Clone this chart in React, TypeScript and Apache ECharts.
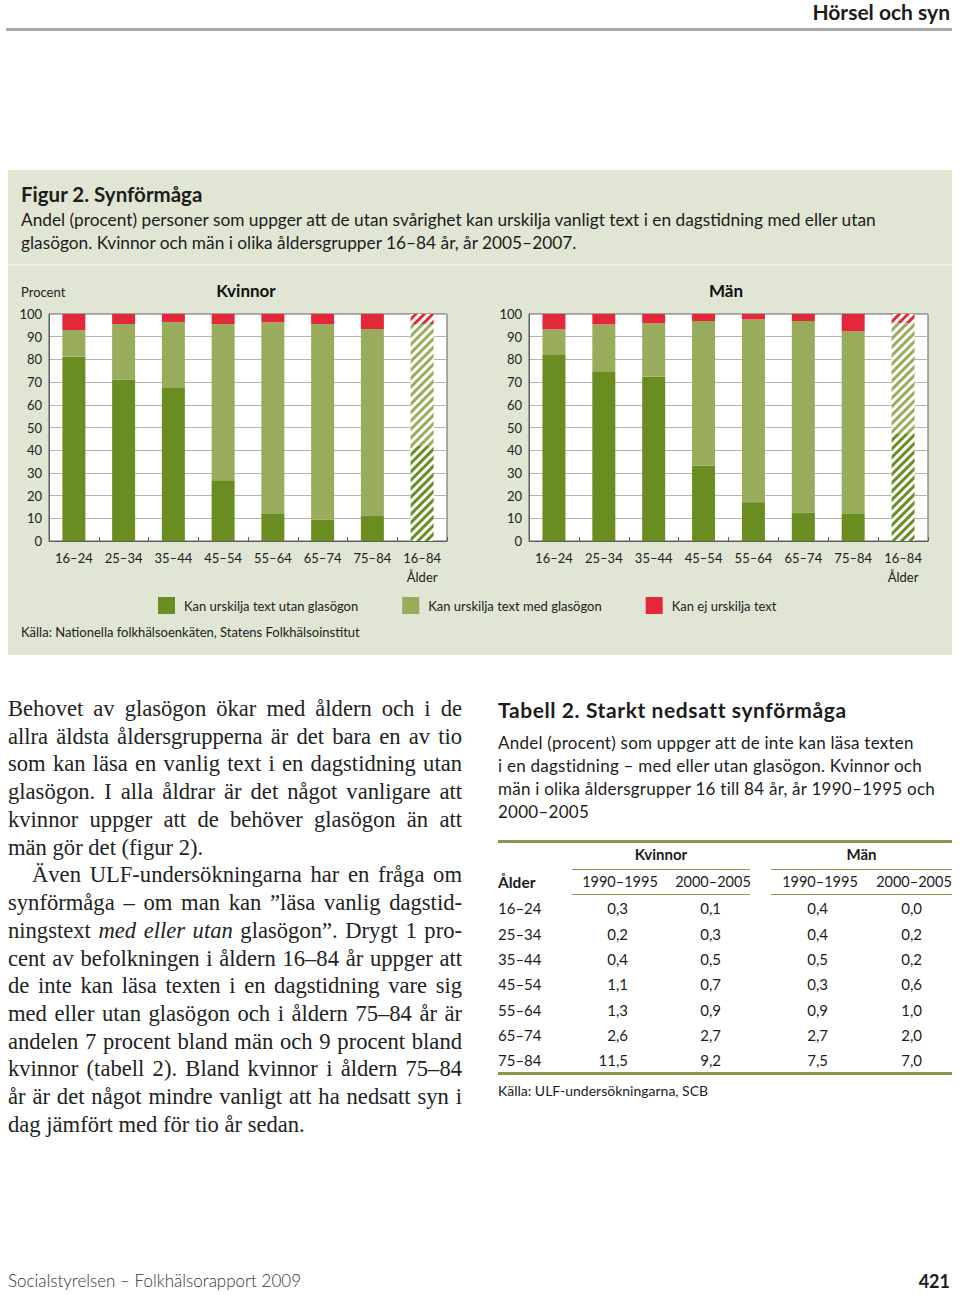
import React, { useEffect, useRef } from "react";
import * as echarts from "echarts";

// ---------- DATA ----------
const categories = ["16–24", "25–34", "35–44", "45–54", "55–64", "65–74", "75–84", "16–84"];
const axisNameX = "Ålder";
const yTicks = { min: 0, max: 100, interval: 10 };
const seriesNames = [
  "Kan urskilja text utan glasögon",
  "Kan urskilja text med glasögon",
  "Kan ej urskilja text",
];
const womenNoGlasses = [81.2, 71.0, 67.4, 26.8, 12.2, 9.4, 11.3, 41.9];
const womenWithGlasses = [11.7, 24.6, 29.1, 68.8, 84.1, 86.2, 82.1, 53.7];
const womenCannot = [7.1, 4.4, 3.5, 4.4, 3.7, 4.4, 6.6, 4.4];
const menNoGlasses = [81.9, 74.4, 72.4, 33.2, 17.1, 12.6, 12.2, 47.1];
const menWithGlasses = [11.3, 21.0, 23.5, 63.7, 80.5, 84.3, 80.2, 48.8];
const menCannot = [6.8, 4.6, 4.1, 3.1, 2.4, 3.1, 7.6, 4.1];

const tableAges = ["16–24", "25–34", "35–44", "45–54", "55–64", "65–74", "75–84"];
const tableWomen1990 = ["0,3", "0,2", "0,4", "1,1", "1,3", "2,6", "11,5"];
const tableWomen2000 = ["0,1", "0,3", "0,5", "0,7", "0,9", "2,7", "9,2"];
const tableMen1990 = ["0,4", "0,4", "0,5", "0,3", "0,9", "2,7", "7,5"];
const tableMen2000 = ["0,0", "0,2", "0,2", "0,6", "1,0", "2,0", "7,0"];

const bodyLines: { t: React.ReactNode; last?: boolean; indent?: boolean }[] = [
  { t: "Behovet av glasögon ökar med åldern och i de" },
  { t: "allra äldsta åldersgrupperna är det bara en av tio" },
  { t: "som kan läsa en vanlig text i en dagstidning utan" },
  { t: "glasögon. I alla åldrar är det något vanligare att" },
  { t: "kvinnor uppger att de behöver glasögon än att" },
  { t: "män gör det (figur 2).", last: true },
  { t: "Även ULF-undersökningarna har en fråga om", indent: true },
  { t: "synförmåga – om man kan ”läsa vanlig dagstid-" },
  { t: <>ningstext <i>med eller utan</i> glasögon”. Drygt 1 pro-</> },
  { t: "cent av befolkningen i åldern 16–84 år uppger att" },
  { t: "de inte kan läsa texten i en dagstidning vare sig" },
  { t: "med eller utan glasögon och i åldern 75–84 år är" },
  { t: "andelen 7 procent bland män och 9 procent bland" },
  { t: "kvinnor (tabell 2). Bland kvinnor i åldern 75–84" },
  { t: "år är det något mindre vanligt att ha nedsatt syn i" },
  { t: "dag jämfört med för tio år sedan.", last: true },
];

// ---------- STYLE ----------
const DARK = "#6a8d22";
const LIGHT = "#98ac5c";
const RED = "#e32939";
const PANEL = "#e1e5d3";
const FONT = "Lato, 'Open Sans', sans-serif";

function buildData(values: number[], color: string) {
  return values.map((v, i) =>
    i === categories.length - 1
      ? {
          value: v,
          itemStyle: {
            color: "#ffffff",
            decal: {
              symbol: "rect",
              symbolSize: 1,
              color: color,
              backgroundColor: "#ffffff",
              dashArrayX: [1, 0],
              dashArrayY: [3, 3],
              rotation: -Math.PI / 4,
            },
          },
        }
      : v
  );
}

function makeSeries(idx: number, stack: string, arrays: number[][]) {
  const colors = [DARK, LIGHT, RED];
  return arrays.map((arr, k) => ({
    name: seriesNames[k],
    type: "bar",
    stack,
    xAxisIndex: idx,
    yAxisIndex: idx,
    barWidth: 23,
    itemStyle: { color: colors[k] },
    data: buildData(arr, colors[k]),
  }));
}

function axisPair(gridIndex: number) {
  return {
    x: {
      type: "category",
      gridIndex,
      data: categories,
      axisLine: { lineStyle: { color: "#5e5e5e", width: 1 } },
      axisTick: { show: true, inside: true, length: 4, lineStyle: { color: "#5e5e5e" } },
      axisLabel: {
        color: "#222",
        fontFamily: FONT,
        fontSize: 13,
        margin: 7,
        lineHeight: 19,
        interval: 0,
        formatter: (v: string, i: number) => (i === categories.length - 1 ? v + "\n" + axisNameX : v),
      },
    },
    y: {
      type: "value",
      gridIndex,
      min: yTicks.min,
      max: yTicks.max,
      interval: yTicks.interval,
      axisLine: { show: true, lineStyle: { color: "#5e5e5e" } },
      axisTick: { show: false },
      axisLabel: { color: "#222", fontFamily: FONT, fontSize: 13, margin: 7 },
      splitLine: { lineStyle: { color: "#b4b4b4", width: 1 } },
    },
  };
}

export default function App() {
  const ref = useRef<HTMLDivElement>(null);
  useEffect(() => {
    const chart = echarts.init(ref.current!, null, { renderer: "svg" });
    const a0 = axisPair(0);
    const a1 = axisPair(1);
    chart.setOption({
      animation: false,
      backgroundColor: "transparent",
      textStyle: { fontFamily: FONT },
      grid: [
        { left: 41, top: 44, width: 398, height: 227, show: true, backgroundColor: "#fff", borderColor: "#5e5e5e", borderWidth: 1 },
        { left: 521, top: 44, width: 399, height: 227, show: true, backgroundColor: "#fff", borderColor: "#5e5e5e", borderWidth: 1 },
      ],
      xAxis: [a0.x, a1.x],
      yAxis: [a0.y, a1.y],
      legend: {
        left: 145,
        top: 322,
        itemWidth: 17,
        itemHeight: 17,
        itemGap: 44,
        icon: "rect",
        data: seriesNames,
        textStyle: { fontFamily: FONT, fontSize: 13, color: "#222", padding: [0, 0, 0, 4] },
      },
      graphic: [
        { type: "text", left: 13, top: 15, style: { text: "Procent", fontFamily: FONT, fontSize: 13, fill: "#222" } },
        { type: "text", x: 238, y: 20, style: { text: "Kvinnor", fontFamily: FONT, fontSize: 17, fontWeight: "bold", fill: "#111", align: "center", verticalAlign: "middle" } },
        { type: "text", x: 718, y: 20, style: { text: "Män", fontFamily: FONT, fontSize: 17, fontWeight: "bold", fill: "#111", align: "center", verticalAlign: "middle" } },
      ],
      series: [
        ...makeSeries(0, "k", [womenNoGlasses, womenWithGlasses, womenCannot]),
        ...makeSeries(1, "m", [menNoGlasses, menWithGlasses, menCannot]),
      ],
    });
    return () => chart.dispose();
  }, []);

  const abs = (s: React.CSSProperties): React.CSSProperties => ({ position: "absolute", whiteSpace: "nowrap", ...s });
  const lineH = 27.73;
  const rowY = [908, 933.5, 958.5, 984, 1009.5, 1035, 1060];
  const GREEN_RULE = "#8a9a4c";

  return (
    <div style={{ position: "absolute", left: 0, top: 0, width: 960, height: 1295, background: "#fff", fontFamily: FONT, color: "#1c1c1c", overflow: "hidden" }}>
      {/* header */}
      <div style={abs({ right: 10, top: -1, lineHeight: "26px", fontSize: 21, fontWeight: "bold" })}>Hörsel och syn</div>
      <div style={abs({ left: 6, top: 28, width: 946, height: 3, background: "#a9a9a9" })} />

      {/* panel */}
      <div style={abs({ left: 8, top: 170, width: 944, height: 485, background: PANEL })} />
      <div style={abs({ left: 8, top: 264, width: 944, height: 2, background: "#ebeee2" })} />
      <div style={abs({ left: 21, top: 182, lineHeight: "24px", fontSize: 20.5, fontWeight: "bold" })}>Figur 2. Synförmåga</div>
      <div style={abs({ left: 21, top: 207.5, lineHeight: "23px", fontSize: 17.3 })}>
        Andel (procent) personer som uppger att de utan svårighet kan urskilja vanligt text i en dagstidning med eller utan
        <br />
        glasögon. Kvinnor och män i olika åldersgrupper 16–84 år, år 2005–2007.
      </div>
      <div ref={ref} style={abs({ left: 8, top: 270, width: 944, height: 350 })} />
      <div style={abs({ left: 21, top: 624, lineHeight: "16px", fontSize: 13 })}>
        Källa: Nationella folkhälsoenkäten, Statens Folkhälsoinstitut
      </div>

      {/* body text */}
      {bodyLines.map((l, i) => (
        <div
          key={i}
          style={abs({
            left: 8,
            top: 695 + i * lineH,
            width: 454,
            lineHeight: lineH + "px",
            fontSize: 22.6,
            fontFamily: "'Liberation Serif', 'DejaVu Serif', serif",
            color: "#222",
            textAlign: l.last ? "left" : "justify",
            textAlignLast: l.last ? "left" : "justify",
            textIndent: l.indent ? 24 : 0,
          })}
        >
          {l.t}
        </div>
      ))}

      {/* table */}
      <div style={abs({ left: 498, top: 697, lineHeight: "26px", fontSize: 21, fontWeight: "bold", letterSpacing: 0.6 })}>Tabell 2. Starkt nedsatt synförmåga</div>
      <div style={abs({ left: 498, top: 730.5, lineHeight: "23px", fontSize: 17, letterSpacing: 0.25 })}>
        Andel (procent) som uppger att de inte kan läsa texten
        <br />i en dagstidning – med eller utan glasögon. Kvinnor och
        <br />män i olika åldersgrupper 16 till 84 år, år 1990–1995 och
        <br />2000–2005
      </div>
      <div style={abs({ left: 498, top: 840, width: 454, height: 2.5, background: GREEN_RULE })} />
      <div style={abs({ left: 572, width: 178, top: 845, lineHeight: "18px", fontSize: 15, fontWeight: "bold", textAlign: "center" })}>Kvinnor</div>
      <div style={abs({ left: 771, width: 181, top: 845, lineHeight: "18px", fontSize: 15, fontWeight: "bold", textAlign: "center" })}>Män</div>
      <div style={abs({ left: 572, top: 868.5, width: 178, height: 1.5, background: GREEN_RULE })} />
      <div style={abs({ left: 771, top: 868.5, width: 181, height: 1.5, background: GREEN_RULE })} />
      <div style={abs({ left: 498, top: 873, lineHeight: "18px", fontSize: 15.5, fontWeight: "bold" })}>Ålder</div>
      {[
        ["1990–1995", 620],
        ["2000–2005", 713],
        ["1990–1995", 820],
        ["2000–2005", 914],
      ].map(([t, x], i) => (
        <div key={i} style={abs({ left: (x as number) - 50, width: 100, top: 873, lineHeight: "18px", fontSize: 14.5, textAlign: "center" })}>
          {t}
        </div>
      ))}
      <div style={abs({ left: 572, top: 893.5, width: 178, height: 1.5, background: GREEN_RULE })} />
      <div style={abs({ left: 771, top: 893.5, width: 181, height: 1.5, background: GREEN_RULE })} />
      {tableAges.map((age, i) => (
        <React.Fragment key={age}>
          <div style={abs({ left: 498, top: rowY[i] - 9, lineHeight: "18px", fontSize: 15 })}>{age}</div>
          {[
            [tableWomen1990[i], 628],
            [tableWomen2000[i], 721],
            [tableMen1990[i], 828],
            [tableMen2000[i], 922],
          ].map(([t, r], j) => (
            <div key={j} style={abs({ left: (r as number) - 60, width: 60, top: rowY[i] - 9, lineHeight: "18px", fontSize: 15, textAlign: "right" })}>
              {t}
            </div>
          ))}
        </React.Fragment>
      ))}
      <div style={abs({ left: 498, top: 1072, width: 454, height: 2.5, background: GREEN_RULE })} />
      <div style={abs({ left: 498, top: 1082, lineHeight: "17px", fontSize: 14 })}>Källa: ULF-undersökningarna, SCB</div>

      {/* footer */}
      <div style={abs({ left: 8, top: 1270, lineHeight: "22px", fontSize: 17, fontWeight: 300, color: "#333" })}>
        Socialstyrelsen – Folkhälsorapport 2009
      </div>
      <div style={abs({ right: 10, top: 1270, lineHeight: "22px", fontSize: 18, fontWeight: "bold" })}>421</div>
    </div>
  );
}
